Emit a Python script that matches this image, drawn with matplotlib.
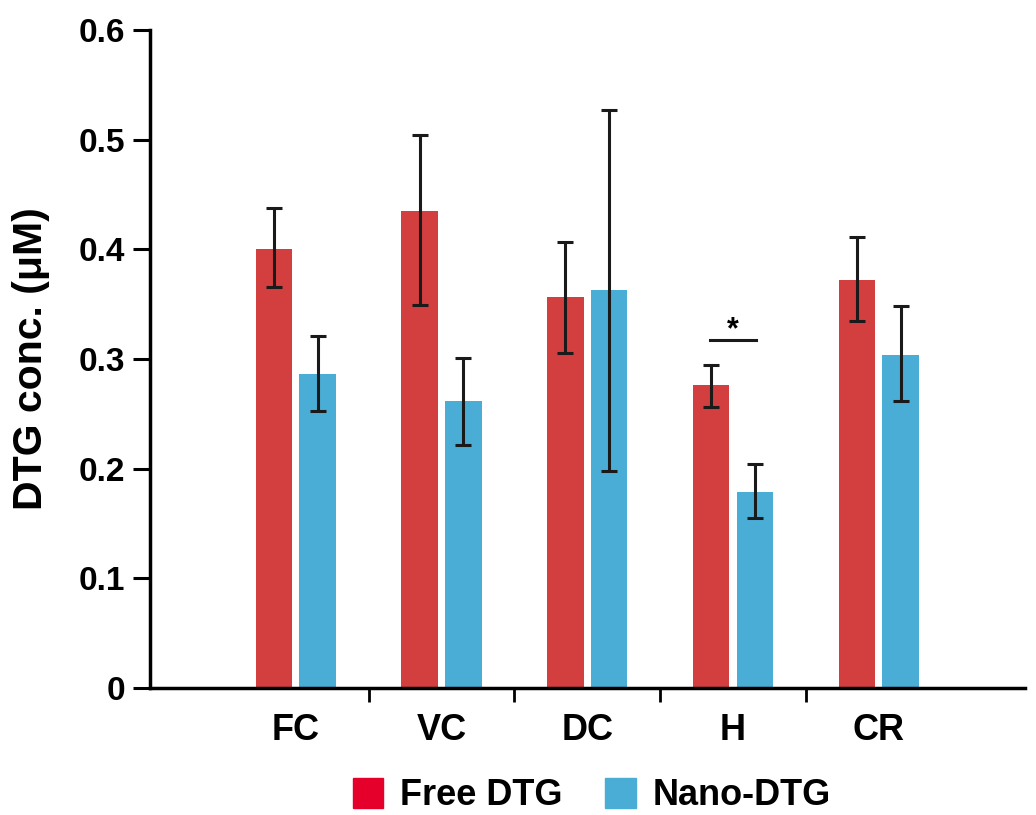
import matplotlib
matplotlib.use("Agg")
import matplotlib.pyplot as plt
import numpy as np
from matplotlib.patches import Patch

plt.rcParams['font.family'] = ['Liberation Sans', 'DejaVu Sans']
plt.rcParams['font.weight'] = 'bold'

categories = ["FC", "VC", "DC", "H", "CR"]
free_mean = [0.400, 0.435, 0.357, 0.276, 0.372]
free_upper = [0.438, 0.504, 0.407, 0.295, 0.411]
free_lower = [0.366, 0.349, 0.306, 0.256, 0.335]
nano_mean = [0.286, 0.262, 0.363, 0.179, 0.304]
nano_upper = [0.321, 0.301, 0.527, 0.204, 0.348]
nano_lower = [0.253, 0.222, 0.198, 0.155, 0.262]
series_labels = ["Free DTG", "Nano-DTG"]
yticks = [0, 0.1, 0.2, 0.3, 0.4, 0.5, 0.6]
ytick_labels = ["0", "0.1", "0.2", "0.3", "0.4", "0.5", "0.6"]

bar_red = "#D33F3F"
bar_blue = "#4AADD6"
leg_red = "#E5002B"

fig = plt.figure(figsize=(10.36, 8.15), dpi=100)
ax = fig.add_axes([0.1448, 0.1558, 0.8442, 0.8072])

x = np.arange(len(categories))
w = 0.25
off = 0.15
fm = np.array(free_mean); nm = np.array(nano_mean)
ferr = [fm - np.array(free_lower), np.array(free_upper) - fm]
nerr = [nm - np.array(nano_lower), np.array(nano_upper) - nm]
ekw = dict(ecolor="#1a1a1a", elinewidth=2.2, capsize=5.8, capthick=2.2)
ax.bar(x - off, fm, w, color=bar_red, yerr=ferr, error_kw=ekw, zorder=2)
ax.bar(x + off, nm, w, color=bar_blue, yerr=nerr, error_kw=ekw, zorder=2)

# significance marker for H
i = categories.index("H")
ax.plot([i - 0.16, i + 0.16], [0.317, 0.317], color="#1a1a1a", lw=2.2)
ax.text(i, 0.313, "*", ha="center", va="bottom", fontsize=22, fontweight="bold")

ax.set_xlim(-1.0, 5.0)
ax.set_ylim(0, 0.6)
ax.set_yticks(yticks)
ax.set_yticklabels(ytick_labels)
ax.set_xticks(x)
ax.set_xticklabels(categories)
ax.set_xticks(x[:-1] + 0.5, minor=True)
ax.tick_params(axis='x', which='major', length=0, pad=18, labelsize=26)
ax.tick_params(axis='x', which='minor', length=10, width=2, direction='out')
ax.tick_params(axis='y', length=12, width=2.2, pad=6, labelsize=24)
for lab in ax.get_xticklabels() + ax.get_yticklabels():
    lab.set_fontweight('bold')

for s in ['top', 'right']:
    ax.spines[s].set_visible(False)
for s in ['left', 'bottom']:
    ax.spines[s].set_linewidth(2.5)

ax.set_ylabel("DTG conc. (μM)", fontsize=29.5, fontweight='bold')
ax.yaxis.set_label_coords(-0.114, 0.5)

handles = [Patch(color=leg_red, label=series_labels[0]), Patch(color=bar_blue, label=series_labels[1])]
fig.legend(handles=handles, loc='center', bbox_to_anchor=(0.571, 0.024), ncol=2, frameon=False,
           prop={'size': 26, 'weight': 'bold'}, handlelength=0.85, handleheight=0.9,
           handletextpad=0.45, columnspacing=1.2)

fig.savefig("out.png", dpi=100)
